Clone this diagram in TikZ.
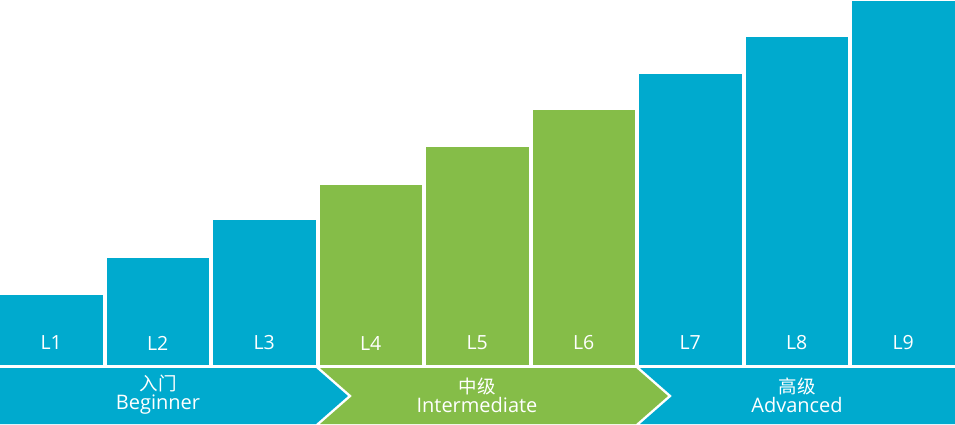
\documentclass[tikz,border=0pt]{standalone}
\usepackage{fontspec}
\setmainfont{Open Sans}
\newfontfamily\cjk{Noto Sans CJK SC}
\definecolor{cblue}{RGB}{0,170,206}
\definecolor{cgreen}{RGB}{133,189,72}
\begin{document}
\begin{tikzpicture}[x=1pt,y=-1pt,
  lvl/.style={text=white,font=\fontsize{19.5}{22}\selectfont},
  stage/.style={text=white,align=center,font=\fontsize{20}{21}\selectfont}]
\useasboundingbox (0,0) rectangle (955,424);
\fill[white] (0,0) rectangle (955,424);
% bars
\foreach \i/\top/\c in {1/295/cblue,2/258/cblue,3/220/cblue,4/185/cgreen,5/147/cgreen,6/110/cgreen,7/74/cblue,8/37/cblue,9/1/cblue}{
  \pgfmathsetmacro{\xl}{(\i-1)*106.5}
  \fill[\c] (\xl,\top) rectangle ++(102.5,365-\top) coordinate (b\i);
  \node[lvl] (L\i) at (\xl+51.25,343) {L\i};
}
% chevrons
\fill[cblue] (0,368) -- (316,368) -- (348,396) -- (316,424) -- (0,424) -- cycle;
\fill[cgreen] (320,368) -- (636,368) -- (668,396) -- (636,424) -- (320,424) -- (352,396) -- cycle;
\fill[cblue] (640,368) -- (955,368) -- (955,424) -- (640,424) -- (672,396) -- cycle;
\node[stage] (beg) at (158,395) {{\cjk\fontsize{18.5}{19}\selectfont 入门}\\[-2pt]Beginner};
\node[stage] (int) at (477,395) {{\cjk\fontsize{18.5}{19}\selectfont 中级}\\[-2pt]Intermediate};
\node[stage] (adv) at (797,395) {{\cjk\fontsize{18.5}{19}\selectfont 高级}\\[-2pt]Advanced};
\end{tikzpicture}
\end{document}
